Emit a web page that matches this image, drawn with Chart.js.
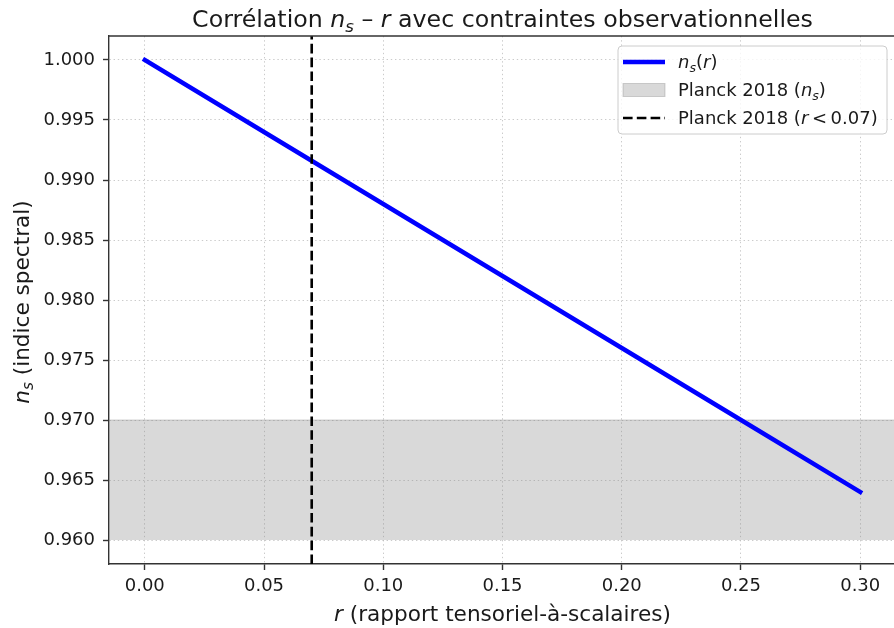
<!DOCTYPE html>
<html>
<head>
<meta charset="utf-8">
<script src="https://cdn.jsdelivr.net/npm/chart.js@4.4.1/dist/chart.umd.min.js"></script>
<style>
html, body { margin: 0; padding: 0; overflow: hidden; background: #ffffff; width: 894px; height: 628px; }
canvas { display: block; }
</style>
</head>
<body>
<canvas id="c" width="897" height="628"></canvas>
<script>
// ---- data ----
const rValues  = [0.00, 0.05, 0.10, 0.15, 0.20, 0.25, 0.30];
const nsValues = [1.000, 0.994, 0.988, 0.982, 0.976, 0.970, 0.964];
const planckNsBand = [0.960, 0.970];
const planckRLimit = 0.07;
const xLimits = [-0.015, 0.315];
const yLimits = [0.958, 1.002];
const xTicks = [0.00, 0.05, 0.10, 0.15, 0.20, 0.25, 0.30];
const yTicks = [0.960, 0.965, 0.970, 0.975, 0.980, 0.985, 0.990, 0.995, 1.000];

const titleText = [
  {t: 'Corrélation '}, {t: 'n', i: true}, {t: 's', i: true, sub: true},
  {t: ' – '}, {t: 'r', i: true}, {t: ' avec contraintes observationnelles'}
];
const xLabelText = [{t: 'r', i: true}, {t: ' (rapport tensoriel-à-scalaires)'}];
const yLabelText = [{t: 'n', i: true}, {t: 's', i: true, sub: true}, {t: ' (indice spectral)'}];
const legendLine = [{t: 'n', i: true}, {t: 's', i: true, sub: true}, {t: '('}, {t: 'r', i: true}, {t: ')'}];
const legendBand = [{t: 'Planck 2018 ('}, {t: 'n', i: true}, {t: 's', i: true, sub: true}, {t: ')'}];
const legendVline = [{t: 'Planck 2018 ('}, {t: 'r', i: true}, {t: '\u2009<\u2009'}, {t: '0.07'}, {t: ')'}];

const FONT = "'DejaVu Sans', sans-serif";
const TEXT = '#1a1a1a';
const SPINE = '#333333';

function fontFor(seg, size) {
  const s = seg.sub ? size * 0.7 : size;
  return (seg.i ? 'italic ' : '') + s + 'px ' + FONT;
}
function richWidth(ctx, segs, size) {
  let w = 0;
  for (const s of segs) { ctx.font = fontFor(s, size); w += ctx.measureText(s.t).width; }
  return w;
}
function drawRich(ctx, segs, x, y, size, align) {
  const w = richWidth(ctx, segs, size);
  let cx = align === 'center' ? x - w / 2 : (align === 'right' ? x - w : x);
  ctx.textAlign = 'left';
  ctx.textBaseline = 'alphabetic';
  ctx.fillStyle = TEXT;
  for (const s of segs) {
    ctx.font = fontFor(s, size);
    const dy = s.sub ? size * 0.2 : 0;
    ctx.fillText(s.t, cx, y + dy);
    cx += ctx.measureText(s.t).width;
  }
}

const decorPlugin = {
  id: 'decor',
  afterDraw(chart) {
    const ctx = chart.ctx;
    const a = chart.chartArea;
    ctx.save();
    // top spine
    ctx.strokeStyle = SPINE;
    ctx.lineWidth = 1.4;
    ctx.beginPath();
    ctx.moveTo(a.left, a.top);
    ctx.lineTo(a.right, a.top);
    ctx.stroke();

    // title
    drawRich(ctx, titleText, (a.left + a.right) / 2, 27, 23.7, 'center');
    // x label
    drawRich(ctx, xLabelText, (a.left + a.right) / 2, 621, 21.6, 'center');
    // y label
    ctx.save();
    ctx.translate(29, (a.top + a.bottom) / 2 + 2);
    ctx.rotate(-Math.PI / 2);
    drawRich(ctx, yLabelText, 0, 0, 21.6, 'center');
    ctx.restore();

    // legend
    const lx = 618, ly = 46, lw = 269, lh = 88, r = 4;
    ctx.beginPath();
    ctx.moveTo(lx + r, ly);
    ctx.arcTo(lx + lw, ly, lx + lw, ly + lh, r);
    ctx.arcTo(lx + lw, ly + lh, lx, ly + lh, r);
    ctx.arcTo(lx, ly + lh, lx, ly, r);
    ctx.arcTo(lx, ly, lx + lw, ly, r);
    ctx.closePath();
    ctx.fillStyle = 'rgba(255,255,255,0.8)';
    ctx.fill();
    ctx.strokeStyle = '#cccccc';
    ctx.lineWidth = 1;
    ctx.stroke();

    const hx0 = 623, hx1 = 665, tx = 678;
    const rows = [62, 90, 118];
    // line handle
    ctx.strokeStyle = '#0000ff';
    ctx.lineWidth = 4.4;
    ctx.setLineDash([]);
    ctx.beginPath(); ctx.moveTo(hx0, rows[0]); ctx.lineTo(hx1, rows[0]); ctx.stroke();
    // band handle
    ctx.fillStyle = 'rgba(128,128,128,0.3)';
    ctx.fillRect(hx0, rows[1] - 6.5, hx1 - hx0, 13);
    ctx.strokeStyle = 'rgba(128,128,128,0.35)';
    ctx.lineWidth = 1;
    ctx.strokeRect(hx0, rows[1] - 6.5, hx1 - hx0, 13);
    // dashed handle
    ctx.strokeStyle = '#000000';
    ctx.lineWidth = 2.6;
    ctx.setLineDash([9.6, 4.2]);
    ctx.beginPath(); ctx.moveTo(hx0, rows[2]); ctx.lineTo(hx1, rows[2]); ctx.stroke();
    ctx.setLineDash([]);

    drawRich(ctx, legendLine, tx, rows[0] + 6, 18, 'left');
    drawRich(ctx, legendBand, tx, rows[1] + 6, 18, 'left');
    drawRich(ctx, legendVline, tx, rows[2] + 6, 18, 'left');
    ctx.restore();
  }
};

const gridCommon = {
  color: 'rgba(185,185,185,0.75)',
  lineWidth: 1,
  tickColor: SPINE,
  tickWidth: 1.4,
  tickLength: 6,
  tickBorderDash: []
};

new Chart(document.getElementById('c'), {
  type: 'line',
  data: {
    datasets: [
      {
        label: 'Planck 2018 (r < 0.07)',
        data: [{x: planckRLimit, y: yLimits[0]}, {x: planckRLimit, y: yLimits[1]}],
        borderColor: '#000000',
        borderWidth: 2.6,
        borderDash: [9.6, 4.2],
        pointRadius: 0,
        fill: false
      },
      {
        label: 'ns(r)',
        data: rValues.map((r, k) => ({x: r, y: nsValues[k]})),
        borderColor: '#0000ff',
        borderWidth: 4.4,
        borderCapStyle: 'square',
        pointRadius: 0,
        tension: 0,
        fill: false
      },
      {
        label: 'Planck 2018 (ns)',
        data: [{x: xLimits[0], y: planckNsBand[1]}, {x: xLimits[1], y: planckNsBand[1]}],
        borderColor: 'rgba(128,128,128,0.35)',
        borderWidth: 1,
        backgroundColor: 'rgba(128,128,128,0.3)',
        pointRadius: 0,
        fill: {value: planckNsBand[0]}
      }
    ]
  },
  options: {
    responsive: false,
    animation: false,
    events: [],
    layout: { padding: { top: 36, right: 1, left: 0, bottom: 0 } },
    plugins: {
      legend: { display: false },
      title: { display: false },
      tooltip: { enabled: false }
    },
    scales: {
      x: {
        type: 'linear',
        min: xLimits[0],
        max: xLimits[1],
        afterBuildTicks: (s) => { s.ticks = xTicks.map(v => ({value: v})); },
        afterFit: (s) => { s.height = 64; },
        ticks: {
          callback: (v) => Number(v).toFixed(2),
          font: { family: FONT, size: 18 },
          color: TEXT,
          padding: 6,
          maxRotation: 0,
          autoSkip: false
        },
        grid: gridCommon,
        border: { display: true, color: SPINE, width: 1.4, dash: [1.4, 2.8] }
      },
      y: {
        type: 'linear',
        min: yLimits[0],
        max: yLimits[1],
        afterBuildTicks: (s) => { s.ticks = yTicks.map(v => ({value: v})); },
        afterFit: (s) => { s.width = 109; },
        ticks: {
          callback: (v) => Number(v).toFixed(3),
          font: { family: FONT, size: 18 },
          color: TEXT,
          padding: 8,
          autoSkip: false
        },
        grid: gridCommon,
        border: { display: true, color: SPINE, width: 1.4, dash: [1.4, 2.8] }
      }
    }
  },
  plugins: [decorPlugin]
});
</script>
</body>
</html>
